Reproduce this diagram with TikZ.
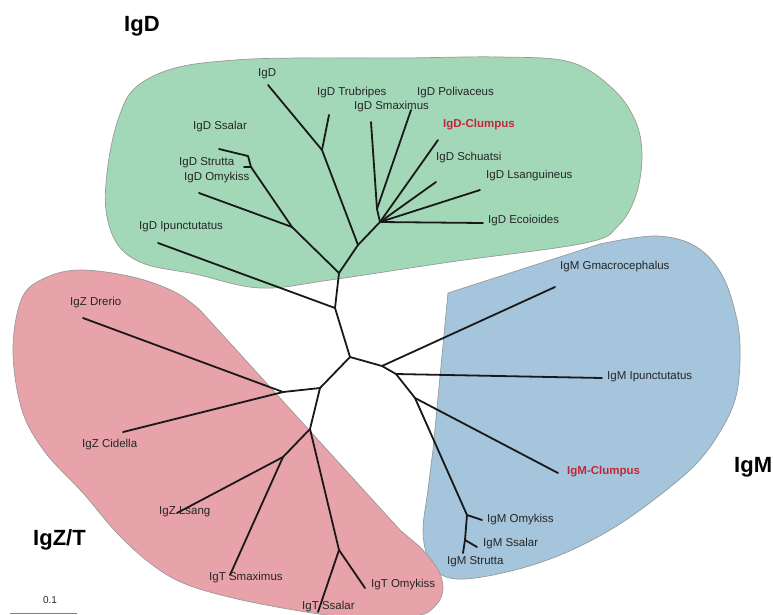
\documentclass[tikz,border=0pt]{standalone}
\usepackage{fontspec}
\setmainfont{Liberation Sans}
\usetikzlibrary{calc}
\definecolor{igd}{HTML}{A2D8B8}
\definecolor{igm}{HTML}{A4C5DC}
\definecolor{igz}{HTML}{E8A2AA}
\definecolor{clump}{HTML}{C0283A}

\begin{document}
\begin{tikzpicture}[x=1pt, y=-1pt,
  blob/.style={draw=black!40, line width=0.7pt},
  treeline/.style={line width=1.8pt, line cap=round, line join=round, black!90},
  taxon/.style={font=\fontsize{11.5}{13}\selectfont, text=black!85, inner sep=0pt, anchor=west},
  taxonred/.style={taxon, font=\fontsize{11.5}{13}\selectfont\bfseries, text=clump},
  cladename/.style={font=\fontsize{22}{26}\selectfont\bfseries, inner sep=0pt, anchor=west}]
  \useasboundingbox (0,0) rectangle (773,614);

  % Clade areas
  \fill[igd, blob] plot[smooth cycle, tension=0.6] coordinates {
    (135,88) (175,68) (235,60) (300,58) (400,58) (500,57) (570,62) (612,88)
    (635,120) (642,155) (636,195) (618,226) (585,243) (450,262) (330,280)
    (260,288) (195,274) (145,264) (118,245) (106,210) (108,165) (118,120)};
  \fill[igm, blob] (448,293) -- plot[smooth, tension=0.6] coordinates {
    (600,244) (655,236) (695,246) (722,275) (737,320) (740,360) (735,400)
    (718,435) (695,465) (660,495) (615,527) (565,553) (515,570) (465,579)
    (440,574) (428,558) (423,530) (428,490) (433,450)} -- cycle;
  \fill[igz, blob] (200,310) -- (400,530) -- plot[smooth, tension=0.6] coordinates {
    (420,547) (437,568) (443,588) (436,605) (415,616) (350,617) (300,611)
    (233,598) (183,583) (150,563) (117,533) (83,493) (45,452) (22,410)
    (13,350) (22,298) (45,278) (80,270) (133,277) (175,292) (200,310)} -- cycle;

  % Inner nodes
  \coordinate (c0) at (350,357);
  \coordinate (r1) at (335,308);
  \coordinate (d1) at (339,273);
  \coordinate (d2) at (292,227);
  \coordinate (d3) at (251,167);
  \coordinate (d3a) at (248,156);
  \coordinate (d4) at (358,245);
  \coordinate (d5) at (322,150);
  \coordinate (d6) at (380,222);
  \coordinate (d7) at (377,209);
  \coordinate (m1) at (382,366);
  \coordinate (m2) at (396,374);
  \coordinate (m3) at (415,398);
  \coordinate (m4) at (467,515);
  \coordinate (m5) at (465,540);
  \coordinate (z1) at (320,388);
  \coordinate (z2) at (283,392);
  \coordinate (t1) at (310,429);
  \coordinate (t2) at (283,457);
  \coordinate (t3) at (339,550);

  % Leaf ends
  \coordinate (eDIpu) at (158,243);
  \coordinate (eDOmy) at (199,193);
  \coordinate (eDStr) at (244,167);
  \coordinate (eDSsa) at (219,149);
  \coordinate (eDIgd) at (268,85);
  \coordinate (eDTru) at (329,115);
  \coordinate (eDSma) at (371,122);
  \coordinate (eDPol) at (411,110);
  \coordinate (eDClu) at (438,140);
  \coordinate (eDSch) at (436,182);
  \coordinate (eDLsa) at (480,190);
  \coordinate (eDEco) at (483,223);
  \coordinate (eMGma) at (555,287);
  \coordinate (eMIpu) at (602,378);
  \coordinate (eMClu) at (558,473);
  \coordinate (eMOmy) at (482,520);
  \coordinate (eMSsa) at (477,547);
  \coordinate (eMStr) at (463,553);
  \coordinate (eZDre) at (83,318);
  \coordinate (eZCid) at (123,432);
  \coordinate (eZLsa) at (177,513);
  \coordinate (eTSma) at (230,575);
  \coordinate (eTSsa) at (318,612);
  \coordinate (eTOmy) at (365,588);

  % IgD branches
  \draw[treeline] (c0) -- (r1) -- (d1);
  \draw[treeline] (r1) -- (eDIpu);
  \draw[treeline] (d1) -- (d2) -- (eDOmy);
  \draw[treeline] (d2) -- (d3) -- (eDStr);
  \draw[treeline] (d3) -- (d3a) -- (eDSsa);
  \draw[treeline] (d1) -- (d4) -- (d5) -- (eDIgd);
  \draw[treeline] (d5) -- (eDTru);
  \draw[treeline] (d4) -- (d6) -- (d7) -- (eDSma);
  \draw[treeline] (d7) -- (eDPol);
  \foreach \e in {eDClu,eDSch,eDLsa,eDEco}
    \draw[treeline] (d6) -- (\e);

  % IgM branches
  \draw[treeline] (c0) -- (m1) -- (eMGma);
  \draw[treeline] (m1) -- (m2) -- (eMIpu);
  \draw[treeline] (m2) -- (m3) -- (eMClu);
  \draw[treeline] (m3) -- (m4) -- (eMOmy);
  \draw[treeline] (m4) -- (m5) -- (eMSsa);
  \draw[treeline] (m5) -- (eMStr);

  % IgZ/T branches
  \draw[treeline] (c0) -- (z1) -- (z2) -- (eZDre);
  \draw[treeline] (z2) -- (eZCid);
  \draw[treeline] (z1) -- (t1) -- (t2) -- (eZLsa);
  \draw[treeline] (t2) -- (eTSma);
  \draw[treeline] (t1) -- (t3) -- (eTSsa);
  \draw[treeline] (t3) -- (eTOmy);

  % Taxa
  \node[taxon] (lDIgd) at (258,74) {IgD};
  \node[taxon] (lDTru) at (317,93) {IgD Trubripes};
  \node[taxon] (lDSma) at (354,107) {IgD Smaximus};
  \node[taxon] (lDPol) at (417,93) {IgD Polivaceus};
  \node[taxonred] (lDClu) at (443,125) {IgD-Clumpus};
  \node[taxon] (lDSsa) at (193,127) {IgD Ssalar};
  \node[taxon] (lDStr) at (179,163) {IgD Strutta};
  \node[taxon] (lDOmy) at (184,178) {IgD Omykiss};
  \node[taxon] (lDSch) at (436,158) {IgD Schuatsi};
  \node[taxon] (lDLsa) at (486,176) {IgD Lsanguineus};
  \node[taxon] (lDEco) at (488,221) {IgD Ecoioides};
  \node[taxon] (lDIpu) at (139,227) {IgD Ipunctutatus};
  \node[taxon] (lMGma) at (560,267) {IgM Gmacrocephalus};
  \node[taxon] (lMIpu) at (607,377) {IgM Ipunctutatus};
  \node[taxonred] (lMClu) at (567,472) {IgM-Clumpus};
  \node[taxon] (lMOmy) at (487,520) {IgM Omykiss};
  \node[taxon] (lMSsa) at (483,544) {IgM Ssalar};
  \node[taxon] (lMStr) at (447,562) {IgM Strutta};
  \node[taxon] (lZDre) at (70,303) {IgZ Drerio};
  \node[taxon] (lZCid) at (82,445) {IgZ Cidella};
  \node[taxon] (lZLsa) at (159,512) {IgZ Lsang};
  \node[taxon] (lTSma) at (209,578) {IgT Smaximus};
  \node[taxon] (lTSsa) at (302,607) {IgT Ssalar};
  \node[taxon] (lTOmy) at (371,585) {IgT Omykiss};

  % Clade names
  \node[cladename] (nIgD) at (124,26) {IgD};
  \node[cladename] (nIgM) at (734,467) {IgM};
  \node[cladename] (nIgZT) at (33,540) {IgZ/T};

  % Scale
  \node[taxon, anchor=center, font=\fontsize{10}{12}\selectfont] (scaletext) at (50,600) {0.1};
  \coordinate (sL) at (10,613);
  \coordinate (sR) at (77,613);
  \draw[black!50, line width=0.8pt] (sL) -- (sR);
\end{tikzpicture}
\end{document}
